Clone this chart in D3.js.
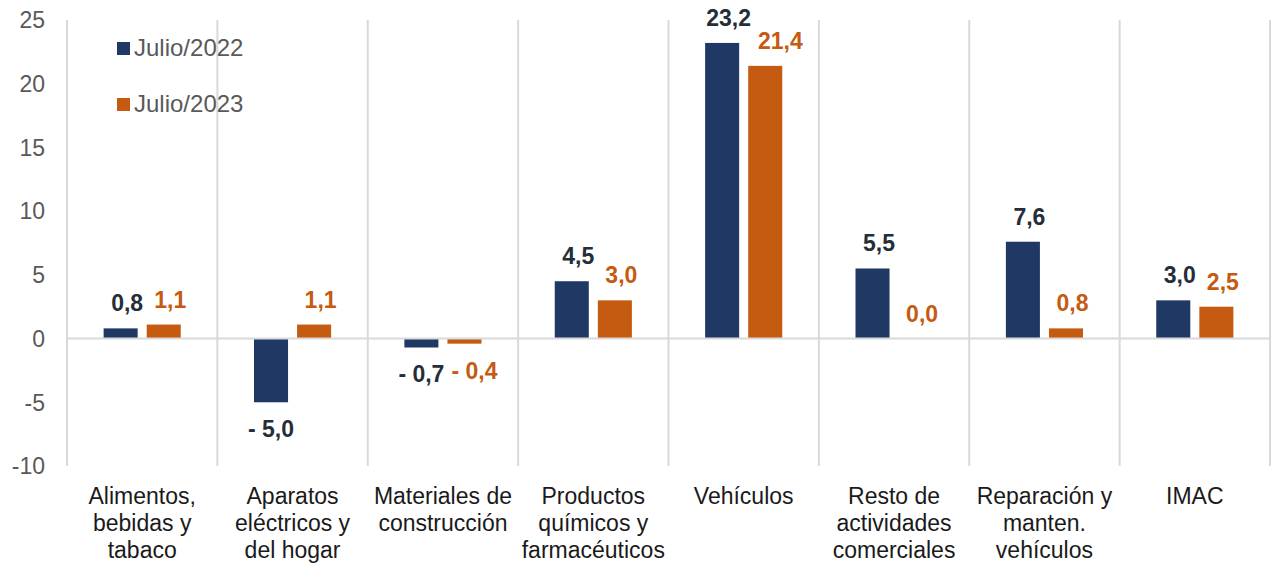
<!DOCTYPE html>
<html><head><meta charset="utf-8">
<script src="https://cdn.jsdelivr.net/npm/d3@7"></script>
<style>html,body{margin:0;padding:0;background:#fff;}svg{display:block;}</style>
</head><body>
<svg id="c" width="1277" height="564"></svg>
<script>
const categories = [
  ["Alimentos,", "bebidas y", "tabaco"],
  ["Aparatos", "eléctricos y", "del hogar"],
  ["Materiales de", "construcción"],
  ["Productos", "químicos y", "farmacéuticos"],
  ["Vehículos"],
  ["Resto de", "actividades", "comerciales"],
  ["Reparación y", "manten.", "vehículos"],
  ["IMAC"]
];
const seriesNames = ["Julio/2022", "Julio/2023"];
const values2022 = [0.8, -5.0, -0.7, 4.5, 23.2, 5.5, 7.6, 3.0];
const values2023 = [1.1, 1.1, -0.4, 3.0, 21.4, 0.0, 0.8, 2.5];
const yTicks = [-10, -5, 0, 5, 10, 15, 20, 25];

(function () {
const colors = ["#203864", "#C55A11"];
const labelColors = ["#252d38", "#C55A11"];
const series = [values2022, values2023];

const svg = d3.select("#c");
const pLeft = 67, pRight = 1270, pTop = 20, pBottom = 466;
const font = "'Liberation Sans', Arial, sans-serif";

const x0 = d3.scaleBand().domain(d3.range(categories.length)).range([pLeft, pRight]).padding(0);
const x1 = d3.scaleBand().domain([0, 1]).range([0, x0.bandwidth()]).paddingInner(0.21).paddingOuter(0.85);
const y = d3.scaleLinear().domain([-10, 25]).range([pBottom, pTop]);

// vertical gridlines at category boundaries
const bounds = d3.range(categories.length + 1).map(i => i < categories.length ? x0(i) : x0(categories.length - 1) + x0.bandwidth());
svg.append("g").selectAll("line").data(bounds).join("line")
  .attr("x1", d => d).attr("x2", d => d).attr("y1", pTop).attr("y2", pBottom)
  .attr("stroke", "#d9d9d9").attr("stroke-width", 2);

// y tick labels
svg.append("g").selectAll("text").data(yTicks).join("text")
  .attr("x", 45).attr("y", d => y(d)).attr("dy", "0.36em")
  .attr("text-anchor", "end").attr("font-family", font).attr("font-size", 23)
  .attr("fill", "#595959").text(d => String(d));

// bars
series.forEach((vals, s) => {
  svg.append("g").selectAll("rect").data(vals).join("rect")
    .attr("x", (d, i) => x0(i) + x1(s))
    .attr("width", x1.bandwidth())
    .attr("y", d => y(Math.max(0, d)))
    .attr("height", d => Math.abs(y(d) - y(0)))
    .attr("fill", colors[s]);
});

// zero line
svg.append("line").attr("x1", pLeft).attr("x2", pRight).attr("y1", y(0)).attr("y2", y(0))
  .attr("stroke", "#d9d9d9").attr("stroke-width", 2);

// data labels
const fmt = v => {
  const s = Math.abs(v).toFixed(1).replace(".", ",");
  return v < 0 ? "- " + s : s;
};
const labelSel = series.map((vals, s) =>
  svg.append("g").selectAll("text").data(vals).join("text")
    .attr("x", (d, i) => x0(i) + x1(s) + x1.bandwidth() / 2 + (d >= 0 ? 6.5 : 0))
    .attr("y", d => d >= 0 ? y(d) - 17 : y(d) + 35)
    .attr("text-anchor", "middle").attr("font-family", font).attr("font-size", 23)
    .attr("font-weight", "bold").attr("fill", labelColors[s]).text(d => fmt(d))
);
// simple overlap avoidance between the two labels of a category
const n0 = labelSel[0].nodes(), n1 = labelSel[1].nodes();
n0.forEach((a, i) => {
  const b = n1[i];
  const ba = a.getBBox(), bb = b.getBBox();
  const vOverlap = ba.y < bb.y + bb.height && bb.y < ba.y + ba.height;
  const gap = 7;
  if (vOverlap && ba.x + ba.width + gap > bb.x) {
    const shift = ba.x + ba.width + gap - bb.x;
    b.setAttribute("x", +b.getAttribute("x") + shift);
  }
});

// category labels
const cg = svg.append("g");
categories.forEach((lines, i) => {
  const cx = x0(i) + x0.bandwidth() / 2;
  const t = cg.append("text").attr("text-anchor", "middle").attr("font-family", font)
    .attr("font-size", 23).attr("fill", "#1a1a1a");
  lines.forEach((ln, k) => {
    t.append("tspan").attr("x", cx).attr("y", 504 + k * 27).text(ln);
  });
});

// legend
seriesNames.forEach((n, s) => {
  const ly = 42 + s * 56;
  svg.append("rect").attr("x", 117).attr("y", ly).attr("width", 13).attr("height", 13).attr("fill", colors[s]);
  svg.append("text").attr("x", 134).attr("y", ly + 14).attr("font-family", font).attr("font-size", 24)
    .attr("fill", "#595959").text(n);
});
})();
</script>
</body></html>
